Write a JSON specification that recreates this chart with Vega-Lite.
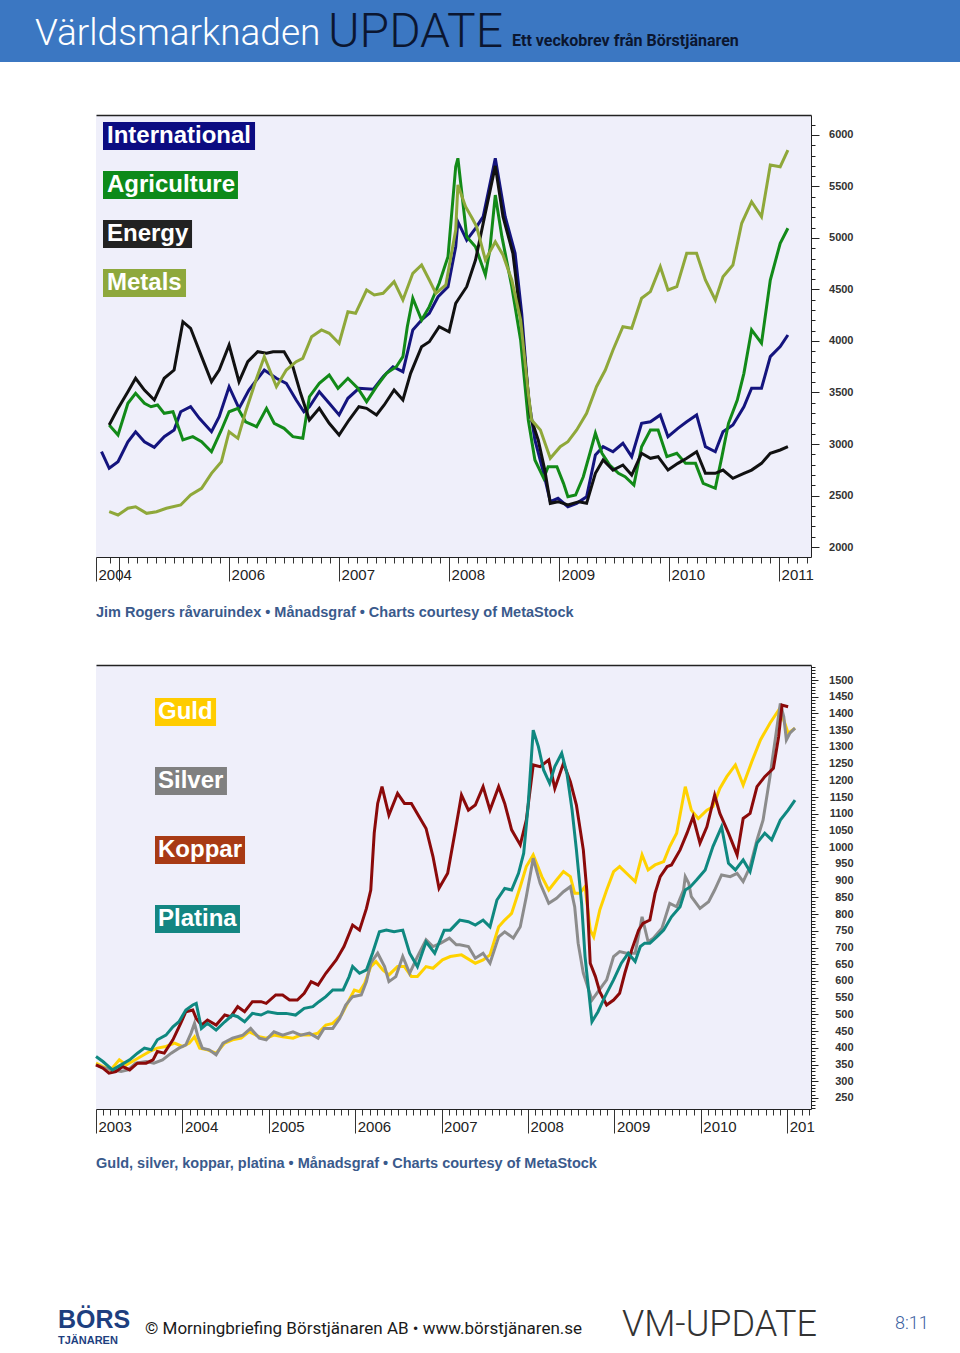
{
"$schema": "https://vega.github.io/schema/vega-lite/v6.json",
"background": "white",
"padding": 0,
"spacing": 53,
"center": true,
"config": {"view": {"stroke": null}, "axis": {"grid": false}},
"datasets": {
"rogers": [
{"series":"International","year":2004.84,"value":2925},{"series":"International","year":2004.91,"value":2764},{"series":"International","year":2004.99,"value":2828},{"series":"International","year":2005.08,"value":3022},{"series":"International","year":2005.15,"value":3119},{"series":"International","year":2005.23,"value":3022},{"series":"International","year":2005.32,"value":2968},{"series":"International","year":2005.41,"value":3071},{"series":"International","year":2005.50,"value":3136},{"series":"International","year":2005.56,"value":3313},{"series":"International","year":2005.65,"value":3362},{"series":"International","year":2005.73,"value":3249},{"series":"International","year":2005.84,"value":3119},{"series":"International","year":2005.91,"value":3265},{"series":"International","year":2006.00,"value":3556},{"series":"International","year":2006.09,"value":3346},{"series":"International","year":2006.18,"value":3524},{"series":"International","year":2006.32,"value":3718},{"series":"International","year":2006.43,"value":3638},{"series":"International","year":2006.52,"value":3589},{"series":"International","year":2006.61,"value":3427},{"series":"International","year":2006.68,"value":3313},{"series":"International","year":2006.73,"value":3362},{"series":"International","year":2006.82,"value":3508},{"series":"International","year":2006.91,"value":3395},{"series":"International","year":2007.00,"value":3282},{"series":"International","year":2007.08,"value":3444},{"series":"International","year":2007.18,"value":3541},{"series":"International","year":2007.31,"value":3531},{"series":"International","year":2007.40,"value":3653},{"series":"International","year":2007.49,"value":3750},{"series":"International","year":2007.58,"value":3702},{"series":"International","year":2007.67,"value":4107},{"series":"International","year":2007.75,"value":4204},{"series":"International","year":2007.82,"value":4269},{"series":"International","year":2007.90,"value":4430},{"series":"International","year":2007.99,"value":4527},{"series":"International","year":2008.06,"value":4915},{"series":"International","year":2008.08,"value":5158},{"series":"International","year":2008.16,"value":4980},{"series":"International","year":2008.24,"value":5094},{"series":"International","year":2008.31,"value":5207},{"series":"International","year":2008.42,"value":5774},{"series":"International","year":2008.51,"value":5207},{"series":"International","year":2008.60,"value":4851},{"series":"International","year":2008.66,"value":4269},{"series":"International","year":2008.72,"value":3459},{"series":"International","year":2008.78,"value":3039},{"series":"International","year":2008.86,"value":2715},{"series":"International","year":2008.92,"value":2440},{"series":"International","year":2008.99,"value":2473},{"series":"International","year":2009.08,"value":2391},{"series":"International","year":2009.16,"value":2424},{"series":"International","year":2009.25,"value":2488},{"series":"International","year":2009.33,"value":2893},{"series":"International","year":2009.40,"value":2974},{"series":"International","year":2009.49,"value":2925},{"series":"International","year":2009.58,"value":3007},{"series":"International","year":2009.66,"value":2877},{"series":"International","year":2009.75,"value":3201},{"series":"International","year":2009.83,"value":3216},{"series":"International","year":2009.92,"value":3282},{"series":"International","year":2009.99,"value":3071},{"series":"International","year":2010.08,"value":3152},{"series":"International","year":2010.16,"value":3216},{"series":"International","year":2010.25,"value":3282},{"series":"International","year":2010.33,"value":2974},{"series":"International","year":2010.42,"value":2925},{"series":"International","year":2010.49,"value":3119},{"series":"International","year":2010.58,"value":3184},{"series":"International","year":2010.68,"value":3362},{"series":"International","year":2010.75,"value":3541},{"series":"International","year":2010.84,"value":3541},{"series":"International","year":2010.92,"value":3848},{"series":"International","year":2011.01,"value":3945},{"series":"International","year":2011.08,"value":4058},
{"series":"Agriculture","year":2004.91,"value":3184},{"series":"Agriculture","year":2004.99,"value":3087},{"series":"Agriculture","year":2005.08,"value":3395},{"series":"Agriculture","year":2005.15,"value":3492},{"series":"Agriculture","year":2005.23,"value":3395},{"series":"Agriculture","year":2005.29,"value":3362},{"series":"Agriculture","year":2005.35,"value":3379},{"series":"Agriculture","year":2005.41,"value":3298},{"series":"Agriculture","year":2005.49,"value":3313},{"series":"Agriculture","year":2005.58,"value":3039},{"series":"Agriculture","year":2005.67,"value":3071},{"series":"Agriculture","year":2005.75,"value":3022},{"series":"Agriculture","year":2005.84,"value":2925},{"series":"Agriculture","year":2005.93,"value":3136},{"series":"Agriculture","year":2006.00,"value":3313},{"series":"Agriculture","year":2006.08,"value":3346},{"series":"Agriculture","year":2006.15,"value":3216},{"series":"Agriculture","year":2006.25,"value":3168},{"series":"Agriculture","year":2006.34,"value":3346},{"series":"Agriculture","year":2006.41,"value":3201},{"series":"Agriculture","year":2006.50,"value":3152},{"series":"Agriculture","year":2006.58,"value":3071},{"series":"Agriculture","year":2006.67,"value":3055},{"series":"Agriculture","year":2006.73,"value":3459},{"series":"Agriculture","year":2006.82,"value":3589},{"series":"Agriculture","year":2006.91,"value":3670},{"series":"Agriculture","year":2006.99,"value":3541},{"series":"Agriculture","year":2007.08,"value":3638},{"series":"Agriculture","year":2007.17,"value":3541},{"series":"Agriculture","year":2007.25,"value":3411},{"series":"Agriculture","year":2007.34,"value":3556},{"series":"Agriculture","year":2007.43,"value":3686},{"series":"Agriculture","year":2007.52,"value":3750},{"series":"Agriculture","year":2007.58,"value":3848},{"series":"Agriculture","year":2007.62,"value":4139},{"series":"Agriculture","year":2007.67,"value":4415},{"series":"Agriculture","year":2007.75,"value":4204},{"series":"Agriculture","year":2007.82,"value":4333},{"series":"Agriculture","year":2007.91,"value":4560},{"series":"Agriculture","year":2007.99,"value":4818},{"series":"Agriculture","year":2008.06,"value":5692},{"series":"Agriculture","year":2008.08,"value":5774},{"series":"Agriculture","year":2008.15,"value":5110},{"series":"Agriculture","year":2008.16,"value":5013},{"series":"Agriculture","year":2008.24,"value":4915},{"series":"Agriculture","year":2008.33,"value":4641},{"series":"Agriculture","year":2008.37,"value":4883},{"series":"Agriculture","year":2008.42,"value":5417},{"series":"Agriculture","year":2008.48,"value":5013},{"series":"Agriculture","year":2008.57,"value":4527},{"series":"Agriculture","year":2008.65,"value":4010},{"series":"Agriculture","year":2008.72,"value":3233},{"series":"Agriculture","year":2008.78,"value":2845},{"series":"Agriculture","year":2008.86,"value":2667},{"series":"Agriculture","year":2008.90,"value":2780},{"series":"Agriculture","year":2008.98,"value":2780},{"series":"Agriculture","year":2009.04,"value":2618},{"series":"Agriculture","year":2009.08,"value":2488},{"series":"Agriculture","year":2009.15,"value":2505},{"series":"Agriculture","year":2009.22,"value":2682},{"series":"Agriculture","year":2009.28,"value":2910},{"series":"Agriculture","year":2009.33,"value":3104},{"series":"Agriculture","year":2009.39,"value":2910},{"series":"Agriculture","year":2009.46,"value":2796},{"series":"Agriculture","year":2009.54,"value":2715},{"series":"Agriculture","year":2009.60,"value":2682},{"series":"Agriculture","year":2009.68,"value":2602},{"series":"Agriculture","year":2009.75,"value":2974},{"series":"Agriculture","year":2009.83,"value":3136},{"series":"Agriculture","year":2009.90,"value":3136},{"series":"Agriculture","year":2009.98,"value":2877},{"series":"Agriculture","year":2010.07,"value":2910},{"series":"Agriculture","year":2010.15,"value":2812},{"series":"Agriculture","year":2010.24,"value":2812},{"series":"Agriculture","year":2010.31,"value":2618},{"series":"Agriculture","year":2010.42,"value":2570},{"series":"Agriculture","year":2010.48,"value":2877},{"series":"Agriculture","year":2010.54,"value":3201},{"series":"Agriculture","year":2010.62,"value":3427},{"series":"Agriculture","year":2010.68,"value":3686},{"series":"Agriculture","year":2010.75,"value":4107},{"series":"Agriculture","year":2010.84,"value":3978},{"series":"Agriculture","year":2010.92,"value":4592},{"series":"Agriculture","year":2011.01,"value":4949},{"series":"Agriculture","year":2011.08,"value":5094},
{"series":"Energy","year":2004.91,"value":3184},{"series":"Energy","year":2004.99,"value":3346},{"series":"Energy","year":2005.08,"value":3508},{"series":"Energy","year":2005.15,"value":3638},{"series":"Energy","year":2005.23,"value":3524},{"series":"Energy","year":2005.32,"value":3427},{"series":"Energy","year":2005.41,"value":3638},{"series":"Energy","year":2005.50,"value":3718},{"series":"Energy","year":2005.58,"value":4187},{"series":"Energy","year":2005.65,"value":4123},{"series":"Energy","year":2005.75,"value":3848},{"series":"Energy","year":2005.84,"value":3605},{"series":"Energy","year":2005.91,"value":3718},{"series":"Energy","year":2006.00,"value":3961},{"series":"Energy","year":2006.09,"value":3605},{"series":"Energy","year":2006.17,"value":3799},{"series":"Energy","year":2006.26,"value":3896},{"series":"Energy","year":2006.34,"value":3881},{"series":"Energy","year":2006.40,"value":3896},{"series":"Energy","year":2006.50,"value":3896},{"series":"Energy","year":2006.58,"value":3750},{"series":"Energy","year":2006.65,"value":3492},{"series":"Energy","year":2006.73,"value":3233},{"series":"Energy","year":2006.82,"value":3346},{"series":"Energy","year":2006.91,"value":3201},{"series":"Energy","year":2007.00,"value":3087},{"series":"Energy","year":2007.09,"value":3233},{"series":"Energy","year":2007.18,"value":3362},{"series":"Energy","year":2007.25,"value":3346},{"series":"Energy","year":2007.34,"value":3282},{"series":"Energy","year":2007.41,"value":3379},{"series":"Energy","year":2007.50,"value":3524},{"series":"Energy","year":2007.58,"value":3427},{"series":"Energy","year":2007.65,"value":3686},{"series":"Energy","year":2007.75,"value":3945},{"series":"Energy","year":2007.82,"value":3993},{"series":"Energy","year":2007.91,"value":4139},{"series":"Energy","year":2008.00,"value":4090},{"series":"Energy","year":2008.06,"value":4366},{"series":"Energy","year":2008.08,"value":4398},{"series":"Energy","year":2008.16,"value":4527},{"series":"Energy","year":2008.24,"value":4786},{"series":"Energy","year":2008.31,"value":5143},{"series":"Energy","year":2008.42,"value":5700},{"series":"Energy","year":2008.49,"value":5207},{"series":"Energy","year":2008.58,"value":4851},{"series":"Energy","year":2008.66,"value":4139},{"series":"Energy","year":2008.74,"value":3265},{"series":"Energy","year":2008.81,"value":3039},{"series":"Energy","year":2008.87,"value":2747},{"series":"Energy","year":2008.92,"value":2424},{"series":"Energy","year":2008.99,"value":2440},{"series":"Energy","year":2009.08,"value":2408},{"series":"Energy","year":2009.18,"value":2440},{"series":"Energy","year":2009.25,"value":2424},{"series":"Energy","year":2009.33,"value":2715},{"series":"Energy","year":2009.40,"value":2845},{"series":"Energy","year":2009.49,"value":2747},{"series":"Energy","year":2009.58,"value":2796},{"series":"Energy","year":2009.66,"value":2699},{"series":"Energy","year":2009.75,"value":2910},{"series":"Energy","year":2009.83,"value":2861},{"series":"Energy","year":2009.90,"value":2877},{"series":"Energy","year":2009.99,"value":2747},{"series":"Energy","year":2010.08,"value":2812},{"series":"Energy","year":2010.16,"value":2861},{"series":"Energy","year":2010.25,"value":2925},{"series":"Energy","year":2010.33,"value":2715},{"series":"Energy","year":2010.42,"value":2715},{"series":"Energy","year":2010.49,"value":2747},{"series":"Energy","year":2010.58,"value":2667},{"series":"Energy","year":2010.68,"value":2715},{"series":"Energy","year":2010.75,"value":2747},{"series":"Energy","year":2010.84,"value":2812},{"series":"Energy","year":2010.92,"value":2910},{"series":"Energy","year":2011.01,"value":2942},{"series":"Energy","year":2011.08,"value":2974},
{"series":"Metals","year":2004.91,"value":2343},{"series":"Metals","year":2004.99,"value":2311},{"series":"Metals","year":2005.08,"value":2376},{"series":"Metals","year":2005.15,"value":2391},{"series":"Metals","year":2005.25,"value":2327},{"series":"Metals","year":2005.34,"value":2343},{"series":"Metals","year":2005.43,"value":2376},{"series":"Metals","year":2005.56,"value":2408},{"series":"Metals","year":2005.65,"value":2505},{"series":"Metals","year":2005.75,"value":2570},{"series":"Metals","year":2005.84,"value":2715},{"series":"Metals","year":2005.93,"value":2828},{"series":"Metals","year":2006.00,"value":3119},{"series":"Metals","year":2006.08,"value":3055},{"series":"Metals","year":2006.15,"value":3313},{"series":"Metals","year":2006.25,"value":3638},{"series":"Metals","year":2006.32,"value":3848},{"series":"Metals","year":2006.43,"value":3556},{"series":"Metals","year":2006.52,"value":3718},{"series":"Metals","year":2006.61,"value":3799},{"series":"Metals","year":2006.67,"value":3832},{"series":"Metals","year":2006.75,"value":4042},{"series":"Metals","year":2006.84,"value":4107},{"series":"Metals","year":2006.91,"value":4075},{"series":"Metals","year":2007.00,"value":3978},{"series":"Metals","year":2007.08,"value":4284},{"series":"Metals","year":2007.15,"value":4269},{"series":"Metals","year":2007.25,"value":4495},{"series":"Metals","year":2007.32,"value":4447},{"series":"Metals","year":2007.40,"value":4463},{"series":"Metals","year":2007.50,"value":4576},{"series":"Metals","year":2007.58,"value":4398},{"series":"Metals","year":2007.67,"value":4657},{"series":"Metals","year":2007.75,"value":4738},{"series":"Metals","year":2007.82,"value":4592},{"series":"Metals","year":2007.88,"value":4463},{"series":"Metals","year":2007.97,"value":4544},{"series":"Metals","year":2008.06,"value":5078},{"series":"Metals","year":2008.08,"value":5515},{"series":"Metals","year":2008.15,"value":5304},{"series":"Metals","year":2008.21,"value":5191},{"series":"Metals","year":2008.25,"value":5110},{"series":"Metals","year":2008.33,"value":4786},{"series":"Metals","year":2008.42,"value":4964},{"series":"Metals","year":2008.49,"value":4835},{"series":"Metals","year":2008.57,"value":4592},{"series":"Metals","year":2008.65,"value":4204},{"series":"Metals","year":2008.72,"value":3492},{"series":"Metals","year":2008.75,"value":3233},{"series":"Metals","year":2008.83,"value":3136},{"series":"Metals","year":2008.92,"value":2861},{"series":"Metals","year":2009.01,"value":2974},{"series":"Metals","year":2009.08,"value":3022},{"series":"Metals","year":2009.16,"value":3136},{"series":"Metals","year":2009.25,"value":3298},{"series":"Metals","year":2009.34,"value":3556},{"series":"Metals","year":2009.42,"value":3718},{"series":"Metals","year":2009.49,"value":3913},{"series":"Metals","year":2009.58,"value":4139},{"series":"Metals","year":2009.66,"value":4123},{"series":"Metals","year":2009.75,"value":4415},{"series":"Metals","year":2009.83,"value":4479},{"series":"Metals","year":2009.92,"value":4721},{"series":"Metals","year":2009.99,"value":4495},{"series":"Metals","year":2010.07,"value":4527},{"series":"Metals","year":2010.16,"value":4851},{"series":"Metals","year":2010.25,"value":4851},{"series":"Metals","year":2010.33,"value":4592},{"series":"Metals","year":2010.42,"value":4398},{"series":"Metals","year":2010.49,"value":4624},{"series":"Metals","year":2010.58,"value":4738},{"series":"Metals","year":2010.66,"value":5143},{"series":"Metals","year":2010.75,"value":5352},{"series":"Metals","year":2010.84,"value":5207},{"series":"Metals","year":2010.92,"value":5709},{"series":"Metals","year":2011.01,"value":5692},{"series":"Metals","year":2011.08,"value":5854}
],
"metals": [
{"series":"Guld","year":2003.00,"value":354},{"series":"Guld","year":2003.08,"value":344},{"series":"Guld","year":2003.17,"value":334},{"series":"Guld","year":2003.27,"value":364},{"series":"Guld","year":2003.35,"value":349},{"series":"Guld","year":2003.42,"value":359},{"series":"Guld","year":2003.52,"value":374},{"series":"Guld","year":2003.62,"value":389},{"series":"Guld","year":2003.71,"value":399},{"series":"Guld","year":2003.81,"value":404},{"series":"Guld","year":2003.91,"value":414},{"series":"Guld","year":2004.00,"value":404},{"series":"Guld","year":2004.08,"value":414},{"series":"Guld","year":2004.14,"value":433},{"series":"Guld","year":2004.20,"value":399},{"series":"Guld","year":2004.29,"value":394},{"series":"Guld","year":2004.39,"value":384},{"series":"Guld","year":2004.49,"value":414},{"series":"Guld","year":2004.58,"value":424},{"series":"Guld","year":2004.68,"value":429},{"series":"Guld","year":2004.77,"value":448},{"series":"Guld","year":2004.89,"value":433},{"series":"Guld","year":2004.97,"value":429},{"series":"Guld","year":2005.06,"value":438},{"series":"Guld","year":2005.16,"value":433},{"series":"Guld","year":2005.28,"value":429},{"series":"Guld","year":2005.37,"value":438},{"series":"Guld","year":2005.47,"value":438},{"series":"Guld","year":2005.57,"value":444},{"series":"Guld","year":2005.66,"value":468},{"series":"Guld","year":2005.74,"value":473},{"series":"Guld","year":2005.84,"value":498},{"series":"Guld","year":2005.93,"value":543},{"series":"Guld","year":2005.99,"value":573},{"series":"Guld","year":2006.05,"value":568},{"series":"Guld","year":2006.11,"value":593},{"series":"Guld","year":2006.18,"value":643},{"series":"Guld","year":2006.24,"value":658},{"series":"Guld","year":2006.32,"value":633},{"series":"Guld","year":2006.39,"value":618},{"series":"Guld","year":2006.49,"value":643},{"series":"Guld","year":2006.57,"value":643},{"series":"Guld","year":2006.65,"value":613},{"series":"Guld","year":2006.72,"value":613},{"series":"Guld","year":2006.82,"value":643},{"series":"Guld","year":2006.90,"value":638},{"series":"Guld","year":2007.01,"value":663},{"series":"Guld","year":2007.10,"value":673},{"series":"Guld","year":2007.23,"value":678},{"series":"Guld","year":2007.39,"value":653},{"series":"Guld","year":2007.48,"value":663},{"series":"Guld","year":2007.56,"value":678},{"series":"Guld","year":2007.66,"value":762},{"series":"Guld","year":2007.73,"value":782},{"series":"Guld","year":2007.81,"value":802},{"series":"Guld","year":2007.91,"value":882},{"series":"Guld","year":2007.98,"value":942},{"series":"Guld","year":2008.06,"value":977},{"series":"Guld","year":2008.16,"value":912},{"series":"Guld","year":2008.24,"value":872},{"series":"Guld","year":2008.33,"value":902},{"series":"Guld","year":2008.41,"value":927},{"series":"Guld","year":2008.49,"value":912},{"series":"Guld","year":2008.54,"value":862},{"series":"Guld","year":2008.60,"value":862},{"series":"Guld","year":2008.66,"value":882},{"series":"Guld","year":2008.72,"value":752},{"series":"Guld","year":2008.76,"value":732},{"series":"Guld","year":2008.83,"value":812},{"series":"Guld","year":2008.91,"value":872},{"series":"Guld","year":2008.99,"value":927},{"series":"Guld","year":2009.06,"value":942},{"series":"Guld","year":2009.14,"value":922},{"series":"Guld","year":2009.24,"value":897},{"series":"Guld","year":2009.32,"value":977},{"series":"Guld","year":2009.39,"value":932},{"series":"Guld","year":2009.47,"value":947},{"series":"Guld","year":2009.57,"value":957},{"series":"Guld","year":2009.64,"value":1002},{"series":"Guld","year":2009.72,"value":1042},{"series":"Guld","year":2009.82,"value":1181},{"series":"Guld","year":2009.89,"value":1111},{"series":"Guld","year":2009.97,"value":1086},{"series":"Guld","year":2010.07,"value":1111},{"series":"Guld","year":2010.14,"value":1121},{"series":"Guld","year":2010.22,"value":1176},{"series":"Guld","year":2010.30,"value":1211},{"series":"Guld","year":2010.40,"value":1246},{"series":"Guld","year":2010.49,"value":1186},{"series":"Guld","year":2010.59,"value":1256},{"series":"Guld","year":2010.69,"value":1321},{"series":"Guld","year":2010.80,"value":1371},{"series":"Guld","year":2010.90,"value":1410},{"series":"Guld","year":2010.96,"value":1380},{"series":"Guld","year":2011.01,"value":1341},{"series":"Guld","year":2011.09,"value":1356},
{"series":"Silver","year":2003.00,"value":349},{"series":"Silver","year":2003.10,"value":339},{"series":"Silver","year":2003.19,"value":334},{"series":"Silver","year":2003.29,"value":329},{"series":"Silver","year":2003.37,"value":334},{"series":"Silver","year":2003.46,"value":354},{"series":"Silver","year":2003.58,"value":359},{"series":"Silver","year":2003.67,"value":354},{"series":"Silver","year":2003.77,"value":364},{"series":"Silver","year":2003.87,"value":384},{"series":"Silver","year":2003.96,"value":399},{"series":"Silver","year":2004.04,"value":409},{"series":"Silver","year":2004.10,"value":444},{"series":"Silver","year":2004.14,"value":473},{"series":"Silver","year":2004.18,"value":433},{"series":"Silver","year":2004.23,"value":399},{"series":"Silver","year":2004.31,"value":394},{"series":"Silver","year":2004.39,"value":379},{"series":"Silver","year":2004.47,"value":414},{"series":"Silver","year":2004.58,"value":429},{"series":"Silver","year":2004.70,"value":438},{"series":"Silver","year":2004.79,"value":458},{"series":"Silver","year":2004.89,"value":429},{"series":"Silver","year":2004.97,"value":424},{"series":"Silver","year":2005.06,"value":448},{"series":"Silver","year":2005.16,"value":438},{"series":"Silver","year":2005.28,"value":448},{"series":"Silver","year":2005.37,"value":438},{"series":"Silver","year":2005.47,"value":444},{"series":"Silver","year":2005.57,"value":429},{"series":"Silver","year":2005.64,"value":458},{"series":"Silver","year":2005.74,"value":458},{"series":"Silver","year":2005.82,"value":488},{"series":"Silver","year":2005.89,"value":528},{"series":"Silver","year":2005.97,"value":553},{"series":"Silver","year":2006.07,"value":558},{"series":"Silver","year":2006.13,"value":598},{"series":"Silver","year":2006.18,"value":653},{"series":"Silver","year":2006.26,"value":683},{"series":"Silver","year":2006.34,"value":643},{"series":"Silver","year":2006.39,"value":598},{"series":"Silver","year":2006.47,"value":613},{"series":"Silver","year":2006.55,"value":673},{"series":"Silver","year":2006.63,"value":623},{"series":"Silver","year":2006.72,"value":673},{"series":"Silver","year":2006.82,"value":723},{"series":"Silver","year":2006.90,"value":703},{"series":"Silver","year":2006.99,"value":713},{"series":"Silver","year":2007.09,"value":728},{"series":"Silver","year":2007.17,"value":708},{"series":"Silver","year":2007.21,"value":708},{"series":"Silver","year":2007.31,"value":703},{"series":"Silver","year":2007.39,"value":668},{"series":"Silver","year":2007.48,"value":683},{"series":"Silver","year":2007.56,"value":653},{"series":"Silver","year":2007.66,"value":732},{"series":"Silver","year":2007.73,"value":747},{"series":"Silver","year":2007.83,"value":728},{"series":"Silver","year":2007.91,"value":762},{"series":"Silver","year":2007.98,"value":852},{"series":"Silver","year":2008.06,"value":967},{"series":"Silver","year":2008.14,"value":892},{"series":"Silver","year":2008.24,"value":832},{"series":"Silver","year":2008.33,"value":847},{"series":"Silver","year":2008.41,"value":867},{"series":"Silver","year":2008.49,"value":882},{"series":"Silver","year":2008.54,"value":822},{"series":"Silver","year":2008.58,"value":713},{"series":"Silver","year":2008.64,"value":623},{"series":"Silver","year":2008.74,"value":543},{"series":"Silver","year":2008.81,"value":568},{"series":"Silver","year":2008.91,"value":603},{"series":"Silver","year":2008.99,"value":673},{"series":"Silver","year":2009.06,"value":688},{"series":"Silver","year":2009.14,"value":683},{"series":"Silver","year":2009.24,"value":683},{"series":"Silver","year":2009.32,"value":792},{"series":"Silver","year":2009.39,"value":717},{"series":"Silver","year":2009.45,"value":728},{"series":"Silver","year":2009.55,"value":758},{"series":"Silver","year":2009.64,"value":832},{"series":"Silver","year":2009.72,"value":822},{"series":"Silver","year":2009.80,"value":872},{"series":"Silver","year":2009.82,"value":912},{"series":"Silver","year":2009.86,"value":892},{"series":"Silver","year":2009.89,"value":852},{"series":"Silver","year":2009.99,"value":817},{"series":"Silver","year":2010.09,"value":837},{"series":"Silver","year":2010.16,"value":872},{"series":"Silver","year":2010.24,"value":917},{"series":"Silver","year":2010.34,"value":912},{"series":"Silver","year":2010.42,"value":922},{"series":"Silver","year":2010.49,"value":897},{"series":"Silver","year":2010.57,"value":942},{"series":"Silver","year":2010.65,"value":1022},{"series":"Silver","year":2010.72,"value":1081},{"series":"Silver","year":2010.80,"value":1211},{"series":"Silver","year":2010.86,"value":1321},{"series":"Silver","year":2010.92,"value":1430},{"series":"Silver","year":2010.96,"value":1390},{"series":"Silver","year":2010.99,"value":1321},{"series":"Silver","year":2011.03,"value":1341},{"series":"Silver","year":2011.09,"value":1356},
{"series":"Koppar","year":2003.00,"value":349},{"series":"Koppar","year":2003.08,"value":339},{"series":"Koppar","year":2003.15,"value":324},{"series":"Koppar","year":2003.23,"value":329},{"series":"Koppar","year":2003.31,"value":344},{"series":"Koppar","year":2003.39,"value":334},{"series":"Koppar","year":2003.48,"value":354},{"series":"Koppar","year":2003.58,"value":354},{"series":"Koppar","year":2003.66,"value":364},{"series":"Koppar","year":2003.71,"value":389},{"series":"Koppar","year":2003.79,"value":384},{"series":"Koppar","year":2003.89,"value":424},{"series":"Koppar","year":2003.98,"value":473},{"series":"Koppar","year":2004.04,"value":508},{"series":"Koppar","year":2004.12,"value":513},{"series":"Koppar","year":2004.16,"value":488},{"series":"Koppar","year":2004.22,"value":468},{"series":"Koppar","year":2004.29,"value":483},{"series":"Koppar","year":2004.39,"value":468},{"series":"Koppar","year":2004.49,"value":498},{"series":"Koppar","year":2004.56,"value":493},{"series":"Koppar","year":2004.64,"value":523},{"series":"Koppar","year":2004.72,"value":508},{"series":"Koppar","year":2004.81,"value":538},{"series":"Koppar","year":2004.91,"value":538},{"series":"Koppar","year":2004.97,"value":533},{"series":"Koppar","year":2005.08,"value":558},{"series":"Koppar","year":2005.16,"value":558},{"series":"Koppar","year":2005.24,"value":543},{"series":"Koppar","year":2005.33,"value":543},{"series":"Koppar","year":2005.41,"value":563},{"series":"Koppar","year":2005.49,"value":598},{"series":"Koppar","year":2005.57,"value":588},{"series":"Koppar","year":2005.66,"value":623},{"series":"Koppar","year":2005.78,"value":663},{"series":"Koppar","year":2005.87,"value":703},{"series":"Koppar","year":2005.97,"value":767},{"series":"Koppar","year":2006.05,"value":752},{"series":"Koppar","year":2006.13,"value":817},{"series":"Koppar","year":2006.18,"value":872},{"series":"Koppar","year":2006.22,"value":1042},{"series":"Koppar","year":2006.26,"value":1131},{"series":"Koppar","year":2006.31,"value":1181},{"series":"Koppar","year":2006.39,"value":1096},{"series":"Koppar","year":2006.49,"value":1161},{"series":"Koppar","year":2006.57,"value":1131},{"series":"Koppar","year":2006.65,"value":1131},{"series":"Koppar","year":2006.74,"value":1091},{"series":"Koppar","year":2006.82,"value":1056},{"series":"Koppar","year":2006.90,"value":972},{"series":"Koppar","year":2006.97,"value":877},{"series":"Koppar","year":2007.07,"value":922},{"series":"Koppar","year":2007.16,"value":1052},{"series":"Koppar","year":2007.23,"value":1156},{"series":"Koppar","year":2007.31,"value":1111},{"series":"Koppar","year":2007.39,"value":1126},{"series":"Koppar","year":2007.48,"value":1181},{"series":"Koppar","year":2007.56,"value":1111},{"series":"Koppar","year":2007.66,"value":1181},{"series":"Koppar","year":2007.73,"value":1131},{"series":"Koppar","year":2007.81,"value":1052},{"series":"Koppar","year":2007.91,"value":1007},{"series":"Koppar","year":2007.98,"value":1081},{"series":"Koppar","year":2008.06,"value":1246},{"series":"Koppar","year":2008.14,"value":1241},{"series":"Koppar","year":2008.24,"value":1261},{"series":"Koppar","year":2008.31,"value":1176},{"series":"Koppar","year":2008.41,"value":1251},{"series":"Koppar","year":2008.49,"value":1196},{"series":"Koppar","year":2008.56,"value":1126},{"series":"Koppar","year":2008.64,"value":992},{"series":"Koppar","year":2008.68,"value":872},{"series":"Koppar","year":2008.72,"value":653},{"series":"Koppar","year":2008.78,"value":613},{"series":"Koppar","year":2008.83,"value":568},{"series":"Koppar","year":2008.91,"value":528},{"series":"Koppar","year":2008.99,"value":543},{"series":"Koppar","year":2009.06,"value":563},{"series":"Koppar","year":2009.12,"value":623},{"series":"Koppar","year":2009.20,"value":693},{"series":"Koppar","year":2009.28,"value":752},{"series":"Koppar","year":2009.33,"value":772},{"series":"Koppar","year":2009.41,"value":782},{"series":"Koppar","year":2009.47,"value":862},{"series":"Koppar","year":2009.53,"value":912},{"series":"Koppar","year":2009.61,"value":942},{"series":"Koppar","year":2009.66,"value":947},{"series":"Koppar","year":2009.76,"value":992},{"series":"Koppar","year":2009.84,"value":1042},{"series":"Koppar","year":2009.91,"value":1091},{"series":"Koppar","year":2009.99,"value":1012},{"series":"Koppar","year":2010.07,"value":1061},{"series":"Koppar","year":2010.16,"value":1156},{"series":"Koppar","year":2010.22,"value":1101},{"series":"Koppar","year":2010.32,"value":1042},{"series":"Koppar","year":2010.42,"value":977},{"series":"Koppar","year":2010.49,"value":1086},{"series":"Koppar","year":2010.57,"value":1101},{"series":"Koppar","year":2010.65,"value":1181},{"series":"Koppar","year":2010.74,"value":1211},{"series":"Koppar","year":2010.84,"value":1236},{"series":"Koppar","year":2010.90,"value":1330},{"series":"Koppar","year":2010.94,"value":1425},{"series":"Koppar","year":2011.01,"value":1420},
{"series":"Platina","year":2003.00,"value":374},{"series":"Platina","year":2003.08,"value":359},{"series":"Platina","year":2003.19,"value":334},{"series":"Platina","year":2003.29,"value":349},{"series":"Platina","year":2003.39,"value":364},{"series":"Platina","year":2003.48,"value":384},{"series":"Platina","year":2003.56,"value":399},{"series":"Platina","year":2003.64,"value":394},{"series":"Platina","year":2003.71,"value":424},{"series":"Platina","year":2003.81,"value":438},{"series":"Platina","year":2003.89,"value":463},{"series":"Platina","year":2003.96,"value":478},{"series":"Platina","year":2004.04,"value":513},{"series":"Platina","year":2004.12,"value":528},{"series":"Platina","year":2004.16,"value":533},{"series":"Platina","year":2004.22,"value":458},{"series":"Platina","year":2004.29,"value":473},{"series":"Platina","year":2004.39,"value":453},{"series":"Platina","year":2004.49,"value":478},{"series":"Platina","year":2004.58,"value":498},{"series":"Platina","year":2004.64,"value":493},{"series":"Platina","year":2004.72,"value":478},{"series":"Platina","year":2004.81,"value":503},{"series":"Platina","year":2004.91,"value":498},{"series":"Platina","year":2004.99,"value":508},{"series":"Platina","year":2005.10,"value":503},{"series":"Platina","year":2005.20,"value":503},{"series":"Platina","year":2005.31,"value":498},{"series":"Platina","year":2005.41,"value":518},{"series":"Platina","year":2005.51,"value":523},{"series":"Platina","year":2005.58,"value":538},{"series":"Platina","year":2005.66,"value":553},{"series":"Platina","year":2005.74,"value":573},{"series":"Platina","year":2005.86,"value":573},{"series":"Platina","year":2005.93,"value":613},{"series":"Platina","year":2005.97,"value":643},{"series":"Platina","year":2006.05,"value":623},{"series":"Platina","year":2006.13,"value":633},{"series":"Platina","year":2006.20,"value":683},{"series":"Platina","year":2006.28,"value":747},{"series":"Platina","year":2006.36,"value":752},{"series":"Platina","year":2006.45,"value":747},{"series":"Platina","year":2006.55,"value":752},{"series":"Platina","year":2006.63,"value":683},{"series":"Platina","year":2006.72,"value":643},{"series":"Platina","year":2006.82,"value":717},{"series":"Platina","year":2006.92,"value":683},{"series":"Platina","year":2007.03,"value":752},{"series":"Platina","year":2007.10,"value":752},{"series":"Platina","year":2007.21,"value":782},{"series":"Platina","year":2007.31,"value":777},{"series":"Platina","year":2007.39,"value":767},{"series":"Platina","year":2007.48,"value":782},{"series":"Platina","year":2007.56,"value":762},{"series":"Platina","year":2007.64,"value":842},{"series":"Platina","year":2007.73,"value":877},{"series":"Platina","year":2007.81,"value":872},{"series":"Platina","year":2007.89,"value":922},{"series":"Platina","year":2007.95,"value":982},{"series":"Platina","year":2008.00,"value":1121},{"series":"Platina","year":2008.06,"value":1350},{"series":"Platina","year":2008.12,"value":1301},{"series":"Platina","year":2008.18,"value":1231},{"series":"Platina","year":2008.25,"value":1191},{"series":"Platina","year":2008.31,"value":1241},{"series":"Platina","year":2008.39,"value":1281},{"series":"Platina","year":2008.45,"value":1221},{"series":"Platina","year":2008.51,"value":1111},{"series":"Platina","year":2008.56,"value":992},{"series":"Platina","year":2008.62,"value":832},{"series":"Platina","year":2008.66,"value":673},{"series":"Platina","year":2008.74,"value":478},{"series":"Platina","year":2008.81,"value":508},{"series":"Platina","year":2008.89,"value":553},{"series":"Platina","year":2008.99,"value":603},{"series":"Platina","year":2009.08,"value":653},{"series":"Platina","year":2009.16,"value":683},{"series":"Platina","year":2009.24,"value":658},{"series":"Platina","year":2009.30,"value":703},{"series":"Platina","year":2009.35,"value":713},{"series":"Platina","year":2009.41,"value":713},{"series":"Platina","year":2009.49,"value":732},{"series":"Platina","year":2009.57,"value":752},{"series":"Platina","year":2009.66,"value":792},{"series":"Platina","year":2009.76,"value":822},{"series":"Platina","year":2009.82,"value":872},{"series":"Platina","year":2009.88,"value":882},{"series":"Platina","year":2009.95,"value":902},{"series":"Platina","year":2010.05,"value":932},{"series":"Platina","year":2010.14,"value":1002},{"series":"Platina","year":2010.24,"value":1061},{"series":"Platina","year":2010.32,"value":952},{"series":"Platina","year":2010.40,"value":932},{"series":"Platina","year":2010.49,"value":962},{"series":"Platina","year":2010.57,"value":927},{"series":"Platina","year":2010.65,"value":1012},{"series":"Platina","year":2010.74,"value":1042},{"series":"Platina","year":2010.82,"value":1022},{"series":"Platina","year":2010.92,"value":1081},{"series":"Platina","year":2011.01,"value":1111},{"series":"Platina","year":2011.09,"value":1141}
]
},
"vconcat": [
{"hconcat": [
 {"width": 326, "height": 62, "view": {"fill": "#3b77c2", "stroke": null}, "data": {"values": []}, "mark": "point",
  "title": {"text": "Världsmarknaden", "orient": "bottom", "anchor": "start", "frame": "group", "offset": -17, "dx": 35, "baseline": "alphabetic", "font": "Roboto", "fontWeight": 300, "fontSize": 37, "color": "white"}},
 {"width": 184, "height": 62, "view": {"fill": "#3b77c2", "stroke": null}, "data": {"values": []}, "mark": "point",
  "title": {"text": "UPDATE", "orient": "bottom", "anchor": "start", "frame": "group", "offset": -15, "dx": 2, "baseline": "alphabetic", "font": "Roboto", "fontWeight": 300, "fontSize": 48, "color": "#0b1630"}},
 {"width": 450, "height": 62, "view": {"fill": "#3b77c2", "stroke": null}, "data": {"values": []}, "mark": "point",
  "title": {"text": "Ett veckobrev från Börstjänaren", "orient": "bottom", "anchor": "start", "frame": "group", "offset": -16, "dx": 2, "baseline": "alphabetic", "font": "Roboto", "fontWeight": "bold", "fontSize": 16, "color": "#0b1630"}}
], "spacing": 0},
{"vconcat": [
 {"width": 715, "height": 442,
  "view": {"fill": "#efeffa", "stroke": null},
  "data": {"name": "rogers"},
  "title": {"text": "Jim Rogers råvaruindex • Månadsgraf • Charts courtesy of MetaStock", "orient": "bottom", "anchor": "start", "frame": "group", "offset": 24, "baseline": "top", "font": "Liberation Sans", "fontSize": 14.5, "fontWeight": "bold", "color": "#3a5a8c"},
  "resolve": {"axis": {"x": "independent"}},
  "layer": [
   {"mark": {"type": "point", "opacity": 0},
    "encoding": {
     "x": {"field": "year", "type": "quantitative", "scale": {"domain": [2004.79, 2011.29], "nice": false, "zero": false},
           "axis": {"orient": "top", "labels": false, "ticks": false, "domain": true, "domainColor": "#222", "domainWidth": 1.5, "title": null}},
     "y": {"field": "value", "type": "quantitative", "scale": {"domain": [1903, 6194], "nice": false, "zero": false},
           "axis": {"orient": "right", "tickCount": 43, "labelExpr": "datum.value % 500 === 0 ? '' + datum.value : ''",
                    "tickSize": {"condition": {"test": "datum.value % 500 === 0", "value": 8}, "value": 4},
                    "labelPadding": 34, "labelAlign": "right", "labelBaseline": "middle", "labelFont": "Liberation Sans", "labelFontSize": 11, "labelFontWeight": "bold", "labelColor": "#333",
                    "domainColor": "#222", "tickColor": "#222", "labelOverlap": false, "labelFlush": false, "labelBound": false, "minExtent": 52, "maxExtent": 52,
                    "title": " ", "titleFontSize": 1, "titlePadding": 0}}
    }},
   {"mark": {"type": "line", "strokeWidth": 3},
    "encoding": {
     "x": {"field": "year", "type": "quantitative", "scale": {"domain": [2004.79, 2011.29], "nice": false, "zero": false},
           "axis": {"orient": "bottom", "title": null,
                    "values": [2004.79,2004.9167,2005,2005.0833,2005.1667,2005.25,2005.3333,2005.4167,2005.5,2005.5833,2005.6667,2005.75,2005.8333,2005.9167,2006,2006.0833,2006.1667,2006.25,2006.3333,2006.4167,2006.5,2006.5833,2006.6667,2006.75,2006.8333,2006.9167,2007,2007.0833,2007.1667,2007.25,2007.3333,2007.4167,2007.5,2007.5833,2007.6667,2007.75,2007.8333,2007.9167,2008,2008.0833,2008.1667,2008.25,2008.3333,2008.4167,2008.5,2008.5833,2008.6667,2008.75,2008.8333,2008.9167,2009,2009.0833,2009.1667,2009.25,2009.3333,2009.4167,2009.5,2009.5833,2009.6667,2009.75,2009.8333,2009.9167,2010,2010.0833,2010.1667,2010.25,2010.3333,2010.4167,2010.5,2010.5833,2010.6667,2010.75,2010.8333,2010.9167,2011,2011.0833,2011.1667,2011.25],
                    "labelExpr": "abs(datum.value - 2004.79) < 0.001 ? '2004' : ((abs(datum.value - round(datum.value)) < 0.001 && round(datum.value) != 2005) ? '' + round(datum.value) : '')",
                    "tickSize": {"condition": {"test": "abs(datum.value - round(datum.value)) < 0.001 || abs(datum.value - 2004.79) < 0.001", "value": 24}, "value": 6},
                    "labelPadding": -14, "labelAlign": "left", "labelBaseline": "top", "labelOffset": 2,
                    "labelFont": "Liberation Sans Narrow, Liberation Sans", "labelFontSize": 15, "labelColor": "#222",
                    "domainColor": "#222", "tickColor": "#333", "labelOverlap": false, "labelFlush": false, "labelBound": false}},
     "y": {"field": "value", "type": "quantitative", "scale": {"domain": [1903, 6194], "nice": false, "zero": false},
           "axis": {"orient": "right", "tickCount": 43, "labelExpr": "datum.value % 500 === 0 ? '' + datum.value : ''",
                    "tickSize": {"condition": {"test": "datum.value % 500 === 0", "value": 8}, "value": 4},
                    "labelPadding": 34, "labelAlign": "right", "labelBaseline": "middle", "labelFont": "Liberation Sans", "labelFontSize": 11, "labelFontWeight": "bold", "labelColor": "#333",
                    "domainColor": "#222", "tickColor": "#222", "labelOverlap": false, "labelFlush": false, "labelBound": false, "minExtent": 52, "maxExtent": 52,
                    "title": " ", "titleFontSize": 1, "titlePadding": 0}},
     "color": {"field": "series", "type": "nominal",
               "scale": {"domain": ["International", "Agriculture", "Energy", "Metals"], "range": ["#14147e", "#128a18", "#111111", "#8fa83a"]},
               "legend": {"orient": "none", "legendX": 7, "legendY": 7, "title": null, "padding": 0, "rowPadding": 21, "direction": "vertical",
                          "symbolSize": 784, "symbolStrokeWidth": 0, "labelOffset": -24, "labelColor": "white", "labelFont": "Liberation Sans", "labelFontSize": 24, "labelFontWeight": "bold", "labelLimit": 500, "labelBaseline": "middle",
                          "encode": {"symbols": {"update": {
                            "shape": {"signal": "datum.value === 'International' ? 'M-1,-1H9.86V1H-1Z' : datum.value === 'Agriculture' ? 'M-1,-1H8.64V1H-1Z' : datum.value === 'Energy' ? 'M-1,-1H5.36V1H-1Z' : 'M-1,-1H4.93V1H-1Z'"},
                            "fill": {"signal": "datum.value === 'International' ? '#0c0c82' : datum.value === 'Agriculture' ? '#0d8a1a' : datum.value === 'Energy' ? '#222222' : '#8ea83c'"},
                            "fillOpacity": {"value": 1},
                            "opacity": {"value": 1}}}}}}
    }}
  ]},
 {"width": 715, "height": 444,
  "view": {"fill": "#efeffa", "stroke": null},
  "data": {"name": "metals"},
  "title": {"text": "Guld, silver, koppar, platina • Månadsgraf • Charts courtesy of MetaStock", "orient": "bottom", "anchor": "start", "frame": "group", "offset": 23, "baseline": "top", "font": "Liberation Sans", "fontSize": 14.5, "fontWeight": "bold", "color": "#3a5a8c"},
  "resolve": {"axis": {"x": "independent"}},
  "layer": [
   {"mark": {"type": "point", "opacity": 0},
    "encoding": {
     "x": {"field": "year", "type": "quantitative", "scale": {"domain": [2003, 2011.275], "nice": false, "zero": false},
           "axis": {"orient": "top", "labels": false, "ticks": false, "domain": true, "domainColor": "#222", "domainWidth": 1.5, "title": null}},
     "y": {"field": "value", "type": "quantitative", "scale": {"domain": [217, 1545], "nice": false, "zero": false},
           "axis": {"orient": "right", "tickCount": 140, "labelExpr": "datum.value % 50 === 0 ? '' + datum.value : ''",
                    "tickSize": {"condition": {"test": "datum.value % 50 === 0", "value": 7}, "value": 4},
                    "labelPadding": 35, "labelAlign": "right", "labelBaseline": "middle", "labelFont": "Liberation Sans", "labelFontSize": 11, "labelFontWeight": "bold", "labelColor": "#333",
                    "domainColor": "#222", "tickColor": "#222", "labelOverlap": false, "labelFlush": false, "labelBound": false, "minExtent": 52, "maxExtent": 52,
                    "title": " ", "titleFontSize": 1, "titlePadding": 0}}
    }},
   {"mark": {"type": "line", "strokeWidth": 3},
    "encoding": {
     "x": {"field": "year", "type": "quantitative", "scale": {"domain": [2003, 2011.275], "nice": false, "zero": false},
           "axis": {"orient": "bottom", "title": null,
                    "values": [2003,2003.0833,2003.1667,2003.25,2003.3333,2003.4167,2003.5,2003.5833,2003.6667,2003.75,2003.8333,2003.9167,2004,2004.0833,2004.1667,2004.25,2004.3333,2004.4167,2004.5,2004.5833,2004.6667,2004.75,2004.8333,2004.9167,2005,2005.0833,2005.1667,2005.25,2005.3333,2005.4167,2005.5,2005.5833,2005.6667,2005.75,2005.8333,2005.9167,2006,2006.0833,2006.1667,2006.25,2006.3333,2006.4167,2006.5,2006.5833,2006.6667,2006.75,2006.8333,2006.9167,2007,2007.0833,2007.1667,2007.25,2007.3333,2007.4167,2007.5,2007.5833,2007.6667,2007.75,2007.8333,2007.9167,2008,2008.0833,2008.1667,2008.25,2008.3333,2008.4167,2008.5,2008.5833,2008.6667,2008.75,2008.8333,2008.9167,2009,2009.0833,2009.1667,2009.25,2009.3333,2009.4167,2009.5,2009.5833,2009.6667,2009.75,2009.8333,2009.9167,2010,2010.0833,2010.1667,2010.25,2010.3333,2010.4167,2010.5,2010.5833,2010.6667,2010.75,2010.8333,2010.9167,2011,2011.0833,2011.1667,2011.25],
                    "labelExpr": "abs(datum.value - round(datum.value)) < 0.001 ? (round(datum.value) == 2011 ? '201' : '' + round(datum.value)) : ''",
                    "tickSize": {"condition": {"test": "abs(datum.value - round(datum.value)) < 0.001", "value": 24}, "value": 6},
                    "labelPadding": -14, "labelAlign": "left", "labelBaseline": "top", "labelOffset": 2,
                    "labelFont": "Liberation Sans Narrow, Liberation Sans", "labelFontSize": 15, "labelColor": "#222",
                    "domainColor": "#222", "tickColor": "#333", "labelOverlap": false, "labelFlush": false, "labelBound": false}},
     "y": {"field": "value", "type": "quantitative", "scale": {"domain": [217, 1545], "nice": false, "zero": false},
           "axis": {"orient": "right", "tickCount": 140, "labelExpr": "datum.value % 50 === 0 ? '' + datum.value : ''",
                    "tickSize": {"condition": {"test": "datum.value % 50 === 0", "value": 7}, "value": 4},
                    "labelPadding": 35, "labelAlign": "right", "labelBaseline": "middle", "labelFont": "Liberation Sans", "labelFontSize": 11, "labelFontWeight": "bold", "labelColor": "#333",
                    "domainColor": "#222", "tickColor": "#222", "labelOverlap": false, "labelFlush": false, "labelBound": false, "minExtent": 52, "maxExtent": 52,
                    "title": " ", "titleFontSize": 1, "titlePadding": 0}},
     "color": {"field": "series", "type": "nominal",
               "scale": {"domain": ["Guld", "Silver", "Koppar", "Platina"], "range": ["#ffd200", "#8c8c8c", "#8b0a0a", "#0f8880"]},
               "legend": {"orient": "none", "legendX": 59, "legendY": 33, "title": null, "padding": 0, "rowPadding": 41, "direction": "vertical",
                          "symbolSize": 784, "symbolStrokeWidth": 0, "labelOffset": -25, "labelColor": "white", "labelFont": "Liberation Sans", "labelFontSize": 24, "labelFontWeight": "bold", "labelLimit": 500, "labelBaseline": "middle",
                          "encode": {"symbols": {"update": {
                            "shape": {"signal": "datum.value === 'Guld' ? 'M-1,-1H3.36V1H-1Z' : datum.value === 'Silver' ? 'M-1,-1H4.14V1H-1Z' : datum.value === 'Koppar' ? 'M-1,-1H5.43V1H-1Z' : 'M-1,-1H5.07V1H-1Z'"},
                            "fill": {"signal": "datum.value === 'Guld' ? '#ffcc00' : datum.value === 'Silver' ? '#808080' : datum.value === 'Koppar' ? '#a83a14' : '#138682'"},
                            "fillOpacity": {"value": 1},
                            "opacity": {"value": 1}}}}}}
    }}
  ]}
], "spacing": 40,
 "resolve": {"scale": {"x": "independent", "y": "independent", "color": "independent"}, "legend": {"color": "independent"}}},
{"hconcat": [
 {"width": 140, "height": 130, "view": {"fill": "white", "stroke": null}, "data": {"values": []}, "mark": "point",
  "title": {"text": "BÖRS", "subtitle": "TJÄNAREN", "orient": "bottom", "anchor": "start", "frame": "group", "offset": -26, "dx": 58, "baseline": "alphabetic", "font": "Liberation Sans", "fontSize": 25, "fontWeight": "bold", "color": "#1e3f7f", "subtitleFont": "Liberation Sans", "subtitleFontSize": 11, "subtitleFontWeight": "bold", "subtitleColor": "#1e3f7f", "subtitlePadding": -9}},
 {"width": 460, "height": 130, "view": {"fill": "white", "stroke": null}, "data": {"values": []}, "mark": "point",
  "title": {"text": "© Morningbriefing Börstjänaren AB • www.börstjänaren.se", "orient": "bottom", "anchor": "start", "frame": "group", "offset": -20, "dx": 5, "baseline": "alphabetic", "font": "Roboto", "fontSize": 17, "fontWeight": "normal", "color": "#1a1a1a"}},
 {"width": 280, "height": 130, "view": {"fill": "white", "stroke": null}, "data": {"values": []}, "mark": "point",
  "title": {"text": "VM-UPDATE", "orient": "bottom", "anchor": "start", "frame": "group", "offset": -18, "dx": 22, "baseline": "alphabetic", "font": "Roboto", "fontSize": 36, "fontWeight": 300, "color": "#333333"}},
 {"width": 80, "height": 130, "view": {"fill": "white", "stroke": null}, "data": {"values": []}, "mark": "point",
  "title": {"text": "8:11", "orient": "bottom", "anchor": "start", "frame": "group", "offset": -25, "dx": 15, "baseline": "alphabetic", "font": "Roboto", "fontSize": 18, "fontWeight": 300, "color": "#3b5f9f"}}
], "spacing": 0}
]
}
